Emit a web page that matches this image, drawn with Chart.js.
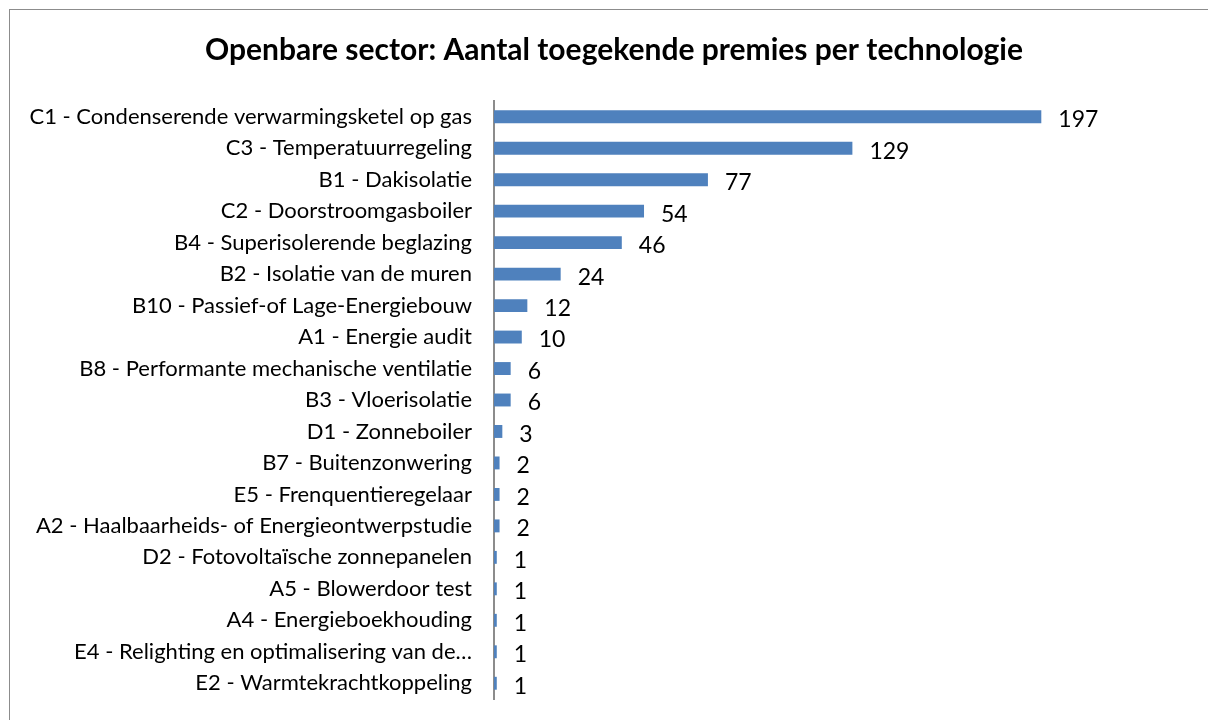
<!DOCTYPE html>
<html>
<head>
<meta charset="utf-8">
<script src="https://cdn.jsdelivr.net/npm/chart.js@4"></script>
<style>
    html, body { margin: 0; padding: 0; background: #fff; overflow: hidden; }
    #frame { position: absolute; left: 9px; top: 9px; width: 1220px; height: 730px; border: 1px solid #8c8c8c; }
    #wrap { position: absolute; left: 0; top: 0; width: 1208px; height: 720px; }
</style>
</head>
<body>
<div id="frame"></div>
<div id="wrap"><canvas id="chart"></canvas></div>
<script>
const titleText = 'Openbare sector: Aantal toegekende premies per technologie';

const categories = [
    'C1 - Condenserende verwarmingsketel op gas',
    'C3 - Temperatuurregeling',
    'B1 - Dakisolatie',
    'C2 - Doorstroomgasboiler',
    'B4 - Superisolerende beglazing',
    'B2 - Isolatie van de muren',
    'B10 - Passief-of Lage-Energiebouw',
    'A1 - Energie audit',
    'B8 - Performante mechanische ventilatie',
    'B3 - Vloerisolatie',
    'D1 - Zonneboiler',
    'B7 - Buitenzonwering',
    'E5 - Frenquentieregelaar',
    'A2 - Haalbaarheids- of Energieontwerpstudie',
    'D2 - Fotovoltaïsche zonnepanelen',
    'A5 - Blowerdoor test',
    'A4 - Energieboekhouding',
    'E4 - Relighting en optimalisering van de…',
    'E2 - Warmtekrachtkoppeling'
];

const premies = [197, 129, 77, 54, 46, 24, 12, 10, 6, 6, 3, 2, 2, 2, 1, 1, 1, 1, 1];

const fontFamily = 'Lato, "Open Sans", sans-serif';

// draws the number next to each bar, like the Excel data labels
const valueLabels = {
    id: 'valueLabels',
    afterDatasetsDraw(chart) {
        const ctx = chart.ctx;
        const meta = chart.getDatasetMeta(0);
        ctx.save();
        ctx.font = '23px ' + fontFamily;
        ctx.fillStyle = '#000';
        ctx.textAlign = 'left';
        ctx.textBaseline = 'middle';
        meta.data.forEach((bar, i) => {
            ctx.fillText(String(premies[i]), bar.x + 17, bar.y + 3);
        });
        ctx.restore();
    }
};

new Chart(document.getElementById('chart'), {
    type: 'bar',
    data: {
        labels: categories,
        datasets: [{
            data: premies,
            backgroundColor: '#4f81bd',
            barPercentage: 0.41,
            categoryPercentage: 1
        }]
    },
    options: {
        indexAxis: 'y',
        responsive: true,
        maintainAspectRatio: false,
        animation: false,
        layout: { padding: { top: 0, right: 0, bottom: 21, left: 20 } },
        plugins: {
            legend: { display: false },
            tooltip: { enabled: false },
            title: {
                display: true,
                text: titleText,
                color: '#000',
                font: { family: fontFamily, size: 30, weight: 'bold' },
                padding: { top: 32, bottom: 33 }
            }
        },
        scales: {
            x: {
                display: false,
                min: 0,
                max: 257
            },
            y: {
                grid: { display: false },
                border: { display: true, color: '#8c8c8c', width: 2 },
                afterFit(scale) {
                    scale.width = 474;
                    scale.paddingTop = 0;
                    scale.paddingBottom = 0;
                },
                ticks: {
                    color: '#000',
                    padding: 14,
                    autoSkip: false,
                    font: { family: fontFamily, size: 22 }
                }
            }
        }
    },
    plugins: [valueLabels]
});
</script>
</body>
</html>
